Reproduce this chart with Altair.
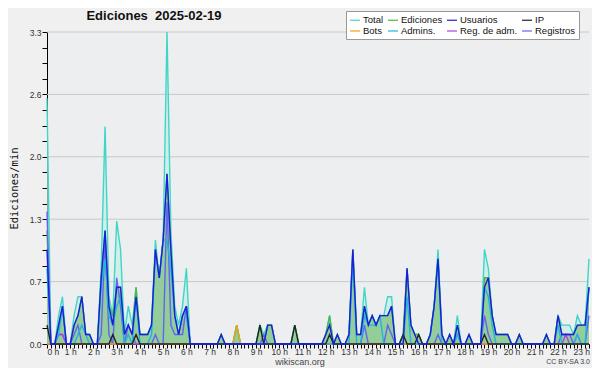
import altair as alt
import pandas as pd

# 10-minute bins, 0:00 .. 23:20 (141 points), values in edits per minute
total = [
    2.6, 0, 0, 0.3, 0.5, 0, 0, 0.3, 0.5, 0.5, 0.1, 0.1,
    0, 0, 0.8, 2.3, 0.5, 0.3, 1.3, 1.0, 0.1, 0.4, 0.2, 0.6,
    0.1, 0.1, 0.1, 0.2, 1.1, 0.7, 1.1, 3.3, 1.2, 0.4, 0.2, 0.4,
    0.8, 0, 0, 0, 0, 0, 0, 0, 0, 0.1, 0, 0,
    0, 0.2, 0, 0, 0, 0, 0, 0.2, 0.1, 0.2, 0.2, 0,
    0, 0, 0, 0, 0.2, 0, 0, 0, 0, 0, 0, 0,
    0.1, 0.3, 0, 0.1, 0, 0, 0.1, 1.0, 0.1, 0.1, 0.6, 0.2,
    0.3, 0.2, 0.3, 0.3, 0.5, 0.5, 0, 0, 0.1, 0.8, 0.2, 0.1,
    0.1, 0, 0, 0.1, 0.4, 1.0, 0.1, 0, 0.1, 0, 0.3, 0,
    0, 0.1, 0, 0, 0, 1.0, 0.8, 0.3, 0.1, 0.1, 0.1, 0.1,
    0, 0, 0.1, 0, 0, 0, 0, 0, 0, 0.1, 0, 0,
    0.3, 0.2, 0.2, 0.2, 0.1, 0.3, 0.2, 0.2, 0.9,
]
ediciones = [
    1.2, 0, 0, 0.2, 0.4, 0, 0, 0.2, 0.3, 0.5, 0.1, 0.1,
    0, 0, 0.7, 1.2, 0.4, 0.3, 0.6, 0.6, 0.1, 0.2, 0.1, 0.6,
    0.1, 0.1, 0.1, 0.2, 1.0, 0.7, 1.1, 1.8, 1.0, 0.3, 0.1, 0.3,
    0.4, 0, 0, 0, 0, 0, 0, 0, 0, 0.1, 0, 0,
    0, 0.2, 0, 0, 0, 0, 0, 0.2, 0, 0.2, 0.2, 0,
    0, 0, 0, 0, 0.2, 0, 0, 0, 0, 0, 0, 0,
    0.1, 0.3, 0, 0.1, 0, 0, 0.1, 1.0, 0.1, 0.1, 0.4, 0.2,
    0.3, 0.2, 0.3, 0.3, 0.3, 0.4, 0, 0, 0.1, 0.8, 0.2, 0.1,
    0.1, 0, 0, 0.1, 0.4, 0.9, 0.1, 0, 0.1, 0, 0.2, 0,
    0, 0.1, 0, 0, 0, 0.7, 0.7, 0.3, 0.1, 0.1, 0.1, 0.1,
    0, 0, 0.1, 0, 0, 0, 0, 0, 0, 0.1, 0, 0,
    0.3, 0.1, 0.1, 0.1, 0.1, 0.2, 0.2, 0.2, 0.6,
]
usuarios = [
    1.0, 0, 0, 0.2, 0.4, 0, 0, 0.2, 0.3, 0.5, 0.1, 0.1,
    0, 0, 0.7, 1.2, 0.4, 0.2, 0.6, 0.6, 0.1, 0.2, 0.1, 0.5,
    0.1, 0.1, 0.1, 0.2, 1.0, 0.7, 1.1, 1.8, 1.0, 0.3, 0.1, 0.3,
    0.4, 0, 0, 0, 0, 0, 0, 0, 0, 0.1, 0, 0,
    0, 0, 0, 0, 0, 0, 0, 0, 0, 0.2, 0.2, 0,
    0, 0, 0, 0, 0, 0, 0, 0, 0, 0, 0, 0,
    0.1, 0.2, 0, 0.1, 0, 0, 0.1, 1.0, 0.1, 0.1, 0.4, 0.2,
    0.3, 0.2, 0.3, 0.3, 0.3, 0.4, 0, 0, 0, 0.8, 0.2, 0.1,
    0, 0, 0, 0.1, 0.4, 0.9, 0.1, 0, 0.1, 0, 0.2, 0,
    0, 0.1, 0, 0, 0, 0.6, 0.7, 0.3, 0.1, 0.1, 0.1, 0.1,
    0, 0, 0.1, 0, 0, 0, 0, 0, 0, 0.1, 0, 0,
    0.3, 0.1, 0.1, 0.1, 0.1, 0.2, 0.2, 0.2, 0.6,
]
ip = [
    0.2, 0, 0, 0, 0, 0, 0, 0, 0, 0, 0, 0,
    0, 0, 0, 0, 0, 0.1, 0, 0, 0, 0, 0, 0.1,
    0, 0, 0, 0, 0, 0, 0, 0, 0, 0, 0, 0,
    0, 0, 0, 0, 0, 0, 0, 0, 0, 0, 0, 0,
    0, 0, 0, 0, 0, 0, 0, 0.2, 0, 0, 0, 0,
    0, 0, 0, 0, 0.2, 0, 0, 0, 0, 0, 0, 0,
    0, 0.1, 0, 0, 0, 0, 0, 0, 0, 0, 0, 0,
    0, 0, 0, 0, 0, 0, 0, 0, 0.1, 0, 0, 0,
    0.1, 0, 0, 0, 0, 0, 0, 0, 0, 0, 0, 0,
    0, 0, 0, 0, 0, 0.1, 0, 0, 0, 0, 0, 0,
    0, 0, 0, 0, 0, 0, 0, 0, 0, 0, 0, 0,
    0, 0, 0, 0, 0, 0, 0, 0, 0,
]
bots = [
    0, 0, 0, 0, 0, 0, 0, 0, 0, 0, 0, 0,
    0, 0, 0, 0, 0, 0, 0, 0, 0, 0, 0, 0.1,
    0, 0, 0, 0, 0, 0, 0, 0, 0, 0, 0, 0,
    0, 0, 0, 0, 0, 0, 0, 0, 0, 0, 0, 0,
    0, 0.2, 0, 0, 0, 0, 0, 0, 0, 0, 0, 0,
    0, 0, 0, 0, 0, 0, 0, 0, 0, 0, 0, 0,
    0, 0, 0, 0, 0, 0, 0, 0, 0, 0, 0, 0,
    0, 0, 0, 0, 0, 0, 0, 0, 0, 0, 0, 0,
    0, 0, 0, 0, 0, 0, 0, 0, 0, 0, 0, 0,
    0, 0, 0, 0, 0, 0, 0, 0, 0, 0, 0, 0,
    0, 0, 0, 0, 0, 0, 0, 0, 0, 0, 0, 0,
    0, 0, 0, 0, 0, 0, 0, 0, 0,
]
admins = [
    0.8, 0, 0, 0.1, 0.4, 0, 0, 0, 0.1, 0.2, 0.1, 0,
    0, 0, 0.6, 0.9, 0.3, 0.2, 0.4, 0.5, 0, 0.1, 0, 0.5,
    0, 0, 0, 0.1, 1.0, 0.7, 1.1, 1.1, 0.8, 0.3, 0.1, 0.3,
    0.3, 0, 0, 0, 0, 0, 0, 0, 0, 0, 0, 0,
    0, 0, 0, 0, 0, 0, 0, 0, 0, 0, 0, 0,
    0, 0, 0, 0, 0, 0, 0, 0, 0, 0, 0, 0,
    0, 0, 0, 0, 0, 0, 0, 0.9, 0, 0, 0.3, 0.2,
    0.2, 0.2, 0.3, 0, 0, 0, 0, 0, 0, 0.5, 0, 0,
    0, 0, 0, 0.1, 0.4, 0.9, 0, 0, 0, 0, 0.1, 0,
    0, 0, 0, 0, 0, 0.6, 0.5, 0.2, 0, 0, 0, 0,
    0, 0, 0, 0, 0, 0, 0, 0, 0, 0, 0, 0,
    0.2, 0, 0, 0, 0, 0.1, 0, 0, 0.6,
]
reg_adm = [
    0, 0, 0, 0.1, 0.1, 0, 0, 0, 0, 0, 0, 0,
    0, 0, 0, 0, 0, 0, 0, 0, 0, 0, 0, 0,
    0, 0, 0, 0, 0, 0, 0, 0, 0, 0, 0, 0,
    0, 0, 0, 0, 0, 0, 0, 0, 0, 0, 0, 0,
    0, 0, 0, 0, 0, 0, 0, 0, 0, 0, 0, 0,
    0, 0, 0, 0, 0, 0, 0, 0, 0, 0, 0, 0,
    0, 0, 0, 0, 0, 0, 0, 0, 0, 0, 0, 0,
    0, 0, 0, 0, 0, 0, 0, 0, 0, 0, 0, 0,
    0, 0, 0, 0, 0, 0, 0, 0, 0, 0, 0, 0,
    0, 0, 0, 0, 0, 0, 0, 0, 0, 0, 0, 0,
    0, 0, 0, 0, 0, 0, 0, 0, 0, 0, 0, 0,
    0, 0, 0.1, 0, 0, 0, 0, 0, 0,
]
registros = [
    1.4, 0, 0, 0.1, 0.1, 0, 0, 0.1, 0.2, 0, 0, 0,
    0, 0, 0.1, 1.1, 0.1, 0, 0.7, 0.4, 0, 0.2, 0.1, 0,
    0, 0, 0, 0, 0.1, 0, 0, 1.5, 0.2, 0.1, 0.1, 0.1,
    0.4, 0, 0, 0, 0, 0, 0, 0, 0, 0, 0, 0,
    0, 0, 0, 0, 0, 0, 0, 0, 0.1, 0, 0, 0,
    0, 0, 0, 0, 0, 0, 0, 0, 0, 0, 0, 0,
    0, 0, 0, 0, 0, 0, 0, 0, 0, 0, 0.2, 0,
    0, 0, 0, 0, 0.2, 0.1, 0, 0, 0, 0, 0, 0,
    0, 0, 0, 0, 0, 0.1, 0, 0, 0, 0, 0.1, 0,
    0, 0, 0, 0, 0, 0.3, 0.1, 0, 0, 0, 0, 0,
    0, 0, 0, 0, 0, 0, 0, 0, 0, 0, 0, 0,
    0, 0.1, 0.1, 0.1, 0, 0.1, 0, 0, 0.3,
]

series_names = ["Total", "Ediciones", "Usuarios", "IP", "Bots", "Admins.", "Reg. de adm.", "Registros"]
series_colors = ["#3fd6c6", "#4cb84c", "#1c1ce0", "#222222", "#f0a020", "#22b4e0", "#b040e0", "#6464f0"]
series_values = [total, ediciones, usuarios, ip, bots, admins, reg_adm, registros]
draw_order = ["Total", "Ediciones", "Registros", "Reg. de adm.", "Bots", "Admins.", "IP", "Usuarios"]

title_text = "Ediciones\u00a0 2025-02-19"
site_text = "wikiscan.org"
license_text = "CC BY-SA 3.0"

hours = [i / 6 for i in range(len(total))]
y_ticks = [round(k * 0.165, 3) for k in range(21)]
grid_values = [0.66, 1.32, 1.98, 2.64, 3.3]

wide = pd.DataFrame({"h": hours, "Total": total, "Ediciones": ediciones})
rows = []
for name in draw_order:
    vals = series_values[series_names.index(name)]
    for h, v in zip(hours, vals):
        rows.append({"h": h, "v": v, "serie": name})
long = pd.DataFrame(rows)

FONT = "Liberation Sans"
xscale = alt.Scale(domain=[0, hours[-1]], nice=False, zero=False)
yscale = alt.Scale(domain=[0, 3.3], nice=False)

x_axis = alt.Axis(
    values=hours, labelExpr="datum.value == floor(datum.value) ? datum.value + ' h' : ''",
    labelOverlap=False, tickSize=4, grid=False, domainColor="#000", tickColor="#000",
    labelColor="#333", labelFont=FONT, labelFontSize=8.5, labelPadding=-1, title=None,
)
y_axis = alt.Axis(
    values=y_ticks,
    labelExpr="abs(datum.value/0.66 - round(datum.value/0.66)) < 0.01 ? format(datum.value, '.1f') : ''",
    labelOverlap=False, tickSize=5, grid=False, domainColor="#000", tickColor="#000",
    labelColor="#333", labelFont=FONT, labelFontSize=8.5, labelPadding=1,
    title="Ediciones/min", titleFont="DejaVu Sans Mono", titleFontSize=10.5,
    titleFontWeight="normal", titleColor="#111", titlePadding=10,
)

X = alt.X("h:Q", scale=xscale, axis=x_axis)

grid = alt.Chart(pd.DataFrame({"g": grid_values})).mark_rule(color="#c8c8c8", strokeWidth=1).encode(
    y=alt.Y("g:Q", scale=yscale, axis=y_axis)
)
area_total = alt.Chart(wide).mark_area(color="#c4eee8", opacity=0.7).encode(
    x=X, y=alt.Y("Total:Q", scale=yscale, axis=y_axis),
)
area_edic = alt.Chart(wide).mark_area(color="#8fca96", opacity=0.95).encode(
    x=X, y=alt.Y("Ediciones:Q", scale=yscale, axis=y_axis),
)
lines = alt.Chart(long).mark_line(strokeWidth=1.4).encode(
    x=X,
    y=alt.Y("v:Q", scale=yscale, axis=y_axis),
    color=alt.Color(
        "serie:N",
        scale=alt.Scale(domain=series_names, range=series_colors),
        legend=alt.Legend(
            orient="none", legendX=299, legendY=-21, columns=4, direction="horizontal",
            title=None, symbolType="stroke", symbolSize=100, symbolStrokeWidth=1.2,
            labelFont=FONT, labelFontSize=9.5, labelColor="#111", fillColor="white",
            strokeColor="#999", padding=3, rowPadding=-3, columnPadding=1, labelOffset=2,
            labelLimit=80,
        ),
    ),
    detail="serie:N",
)

title = alt.Chart(pd.DataFrame({"t": [title_text]})).mark_text(
    font=FONT, fontSize=13, fontWeight="bold", color="#111", align="center", baseline="middle"
).encode(text="t:N", x=alt.value(107), y=alt.value(-16))
site = alt.Chart(pd.DataFrame({"t": [site_text]})).mark_text(
    font=FONT, fontSize=9, color="#444", align="center", baseline="middle"
).encode(text="t:N", x=alt.value(253), y=alt.value(329.5))
license_ = alt.Chart(pd.DataFrame({"t": [license_text]})).mark_text(
    font=FONT, fontSize=7, color="#444", align="right", baseline="middle"
).encode(text="t:N", x=alt.value(543), y=alt.value(330))

chart = alt.layer(grid, area_total, area_edic, lines, title, site, license_).properties(
    width=542, height=312,
    padding={"left": 39, "top": 24, "right": 3, "bottom": 24},
    autosize=alt.AutoSizeParams(type="none"),
    background="#f0f0f0",
).configure_view(fill="#edeef0", stroke=None)

chart.save("out.html", embed_options={"renderer": "svg", "actions": False})
